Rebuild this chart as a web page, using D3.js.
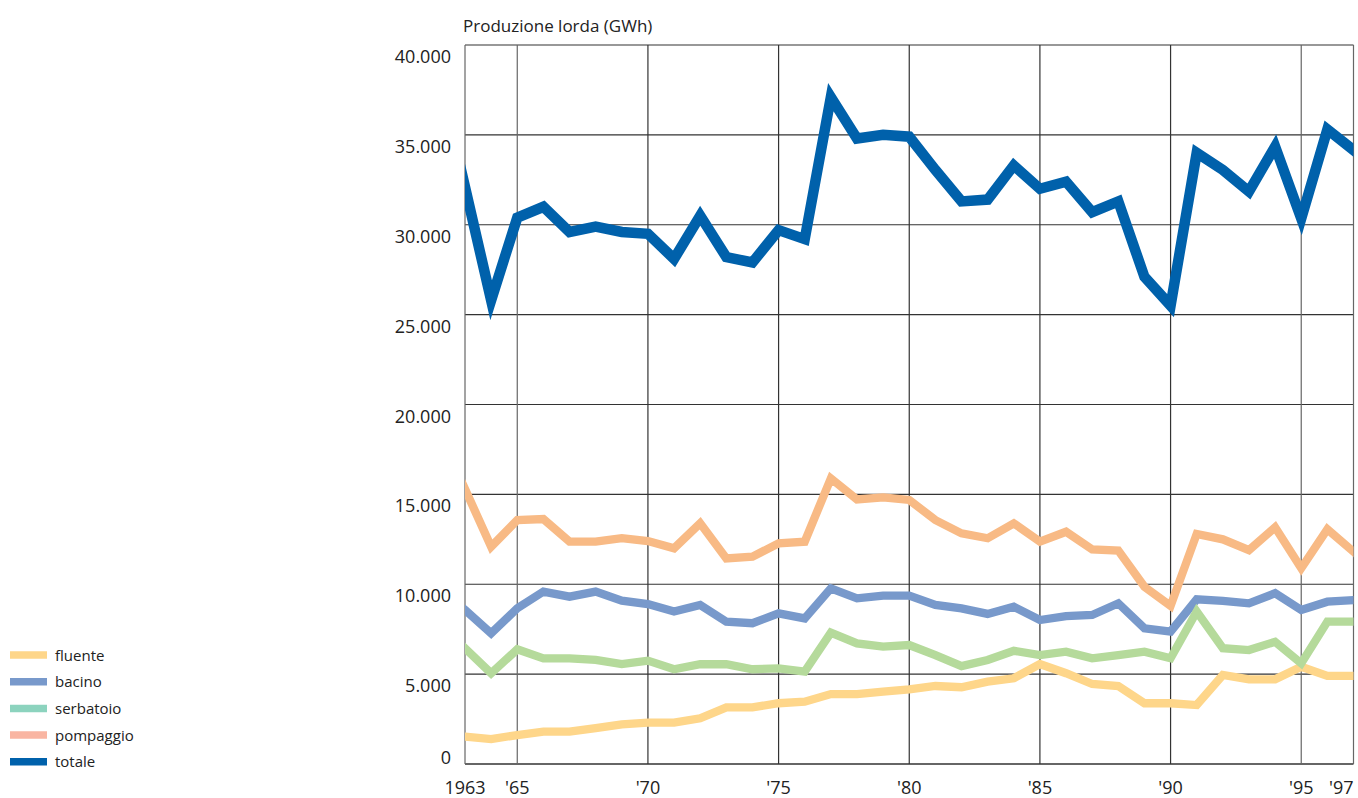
<!DOCTYPE html>
<html>
<head>
<meta charset="utf-8">
<script src="https://cdn.jsdelivr.net/npm/d3@7"></script>
<style>
  html, body { margin: 0; padding: 0; background: #fff; }
  svg { display: block; }
  text { font-family: "Open Sans", "Noto Sans", sans-serif; fill: #222; }
</style>
</head>
<body>
<svg id="chart" width="1358" height="798"></svg>
<script>
const years = [1963,1964,1965,1966,1967,1968,1969,1970,1971,1972,1973,1974,1975,1976,1977,1978,1979,
               1980,1981,1982,1983,1984,1985,1986,1987,1988,1989,1990,1991,1992,1993,1994,1995,1996,1997];

const fluente   = [1520,1390,1610,1800,1800,1990,2210,2300,2300,2540,3150,3150,3380,3470,3890,3890,4020,
                   4150,4340,4270,4580,4770,5560,5050,4450,4340,3380,3380,3280,4950,4710,4710,5410,4900,4900];
const bacino    = [8570,7270,8660,9590,9310,9590,9090,8900,8480,8850,7920,7830,8380,8100,9770,9220,9370,
                   9370,8850,8660,8350,8750,8010,8230,8290,8940,7550,7360,9160,9070,8940,9500,8570,9030,9120];
const serbatoio = [6440,5050,6380,5880,5880,5790,5560,5750,5270,5550,5550,5270,5320,5140,7310,6710,6530,
                   6620,6060,5450,5790,6300,6060,6250,5880,6060,6250,5880,8480,6440,6340,6800,5600,7920,7920];
const pompaggio = [15300,12090,13570,13630,12370,12370,12560,12400,12000,13390,11440,11530,12280,12370,15890,14720,14830,
                   14690,13570,12830,12560,13390,12370,12920,11940,11870,9860,8800,12800,12500,11900,13170,10890,13060,11810];
const totale    = [32100,25800,30400,31000,29600,29900,29600,29500,28100,30500,28200,27900,29700,29200,37100,34800,35000,
                   34900,33050,31300,31400,33300,32000,32400,30700,31300,27100,25500,34000,33050,31850,34350,30350,35300,34150];

const xTickYears  = [1963,1965,1970,1975,1980,1985,1990,1995,1997];
const xTickLabels = ["1963","'65","'70","'75","'80","'85","'90","'95","'97"];
const yTickValues = [0,5000,10000,15000,20000,25000,30000,35000,40000];
const yTickLabels = ["0","5.000","10.000","15.000","20.000","25.000","30.000","35.000","40.000"];

const seriesNames = ["fluente","bacino","serbatoio","pompaggio","totale"];
const lineColors   = {fluente:"#fed68a", bacino:"#7899cb", serbatoio:"#b5da9b", pompaggio:"#f8ba85", totale:"#0061ab"};
const legendColors = {fluente:"#fed68a", bacino:"#7899cb", serbatoio:"#8cd3be", pompaggio:"#f9b5a2", totale:"#0061ab"};
const seriesData = {fluente, bacino, serbatoio, pompaggio, totale};

const svg = d3.select("#chart");
const x = d3.scaleLinear().domain([1963,1997]).range([465,1353.5]);
const y = d3.scaleLinear().domain([0,40000]).range([764,45]);

// grid
const grid = svg.append("g");
grid.selectAll("line.h").data(yTickValues).join("line")
  .attr("x1", x(1963)).attr("x2", x(1997))
  .attr("y1", d => y(d)).attr("y2", d => y(d))
  .attr("stroke", "#333").attr("stroke-width", d => d === 0 ? 1.6 : 1.1);
grid.selectAll("line.v").data(xTickYears).join("line")
  .attr("x1", d => x(d)).attr("x2", d => x(d))
  .attr("y1", y(40000)).attr("y2", y(0))
  .attr("stroke", d => (d === 1963 || d === 1965 || d === 1995 || d === 1997) ? "#666" : "#333")
  .attr("stroke-width", 1.2);

// y labels
svg.append("g").selectAll("text").data(yTickValues).join("text")
  .attr("x", 451)
  .attr("y", d => d === 0 ? y(d) - 0.5 : y(d) + 18)
  .attr("text-anchor", "end")
  .style("font-size", "18px")
  .text((d,i) => yTickLabels[i]);

// x labels
svg.append("g").selectAll("text").data(xTickYears).join("text")
  .attr("x", d => x(d))
  .attr("y", 794)
  .attr("text-anchor", d => d === 1997 ? "end" : "middle")
  .style("font-size", "18px")
  .text((d,i) => xTickLabels[i]);

// title
svg.append("text").attr("x", 463).attr("y", 32)
  .style("font-size", "17px").text("Produzione lorda (GWh)");

// lines: clipped at the plot edges; end segments continue past the edge so the clip cuts them flat
svg.append("clipPath").attr("id","plotclip").append("rect")
  .attr("x", x(1963)).attr("y", 0).attr("width", x(1997)-x(1963)).attr("height", 798);
const line = d3.line().x(d => x(d[0])).y(d => y(d[1]));
function withEdges(vals) {
  const pts = vals.map((v,i) => [years[i], v]);
  const n = pts.length;
  const first = [years[0] - 0.5, vals[0] + (vals[0] - vals[1]) * 0.5];
  const last  = [years[n-1] + 0.5, vals[n-1] + (vals[n-1] - vals[n-2]) * 0.5];
  return [first, ...pts, last];
}
const lg = svg.append("g").attr("clip-path","url(#plotclip)");
seriesNames.forEach(name => {
  lg.append("path")
    .datum(withEdges(seriesData[name]))
    .attr("d", line)
    .attr("fill", "none")
    .attr("stroke", lineColors[name])
    .attr("stroke-width", name === "totale" ? 10.5 : 8.3)
    .attr("stroke-linejoin", "miter")
    .attr("stroke-miterlimit", 10)
    .attr("stroke-linecap", "butt");
});

// legend
const leg = svg.append("g");
seriesNames.forEach((name, i) => {
  const cy = 655 + i * 26.7;
  leg.append("line").attr("x1", 10).attr("x2", 47).attr("y1", cy).attr("y2", cy)
    .attr("stroke", legendColors[name]).attr("stroke-width", 7.5);
  leg.append("text").attr("x", 55).attr("y", cy + 5.5)
    .style("font-size", "15px").text(name);
});
</script>
</body>
</html>
